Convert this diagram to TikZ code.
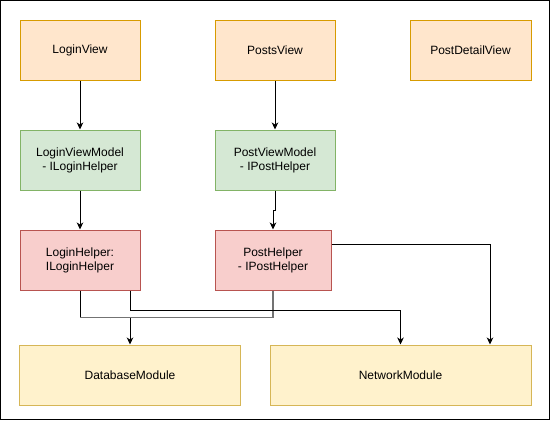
\documentclass[tikz,border=0pt]{standalone}
\usepackage{fontspec}
\setmainfont{Liberation Sans}
\usetikzlibrary{arrows.meta}

\definecolor{vistaF}{HTML}{FFE6CC}
\definecolor{vistaD}{HTML}{D79B00}
\definecolor{modeloF}{HTML}{D5E8D4}
\definecolor{modeloD}{HTML}{82B366}
\definecolor{ayudaF}{HTML}{F8CECC}
\definecolor{ayudaD}{HTML}{B85450}
\definecolor{moduloF}{HTML}{FFF2CC}
\definecolor{moduloD}{HTML}{D6B656}

\tikzset{
  caja/.style={rectangle,line width=1pt,minimum width=120pt,minimum height=60pt,
    align=center,inner sep=0pt,font=\fontsize{12}{14}\selectfont},
  vista/.style={caja,fill=vistaF,draw=vistaD},
  modelo/.style={caja,fill=modeloF,draw=modeloD},
  ayuda/.style={caja,fill=ayudaF,draw=ayudaD},
  modulo/.style={caja,fill=moduloF,draw=moduloD},
  flecha/.style={line width=1pt,-{Stealth[length=7pt,width=6.5pt,inset=2pt]}},
  linea/.style={line width=1pt},
  bus/.style={line width=1.6pt,draw=black!55}
}

\begin{document}
\begin{tikzpicture}[x=1pt,y=-1pt]
\useasboundingbox (0,0) rectangle (551,421);
%marco exterior
\draw [line width=1pt] (0.5,0.5) rectangle (549.5,419.5);

%Vistas
\node [vista] (loginView) at (80,50) {LoginView};
\node [vista] (postsView) at (275,50) {PostsView};
\node [vista,minimum width=121pt] (postDetailView) at (470.5,50) {PostDetailView};

%Modelos de vista
\node [modelo] (loginVM) at (80,160) {LoginViewModel\\- ILoginHelper};
\node [modelo] (postVM) at (275,160) {PostViewModel\\- IPostHelper};

%Helpers
\node [ayuda] (loginHelper) at (80,260) {LoginHelper:\\ILoginHelper};
\node [ayuda,minimum width=116pt] (postHelper) at (273,260) {PostHelper\\- IPostHelper};

%Modulos
\node [modulo,minimum width=221pt] (dbModule) at (130,375) {DatabaseModule};
\node [modulo,minimum width=261pt] (netModule) at (400.5,375) {NetworkModule};

%puntos de union
\coordinate (lhCodo) at (80,317.5);
\coordinate (phCodo) at (273,317.5);
\coordinate (dbUnion) at (130,317.5);

%Flechas entre capas
\draw [flecha] (loginView) -- (loginVM);
\draw [flecha] (postsView) -- (postVM);
\draw [flecha] (loginVM) -- (loginHelper);
\draw [flecha] (postVM.south) -- ++(0,20) -| (postHelper.north);

%Helpers hacia DatabaseModule
\draw [linea] (loginHelper.south) -- (lhCodo);
\draw [bus] (lhCodo) -- (dbUnion);
\draw [bus] (postHelper.south) -- (phCodo) -- (dbUnion);
\draw [flecha] (dbUnion) -- (dbModule.north);

%Helpers hacia NetworkModule
\draw [flecha] ([xshift=-10pt]loginHelper.south east) -- ++(0,20) -| (netModule.north);
\draw [flecha] ([yshift=-15pt]postHelper.north east) -| ([xshift=89.5pt]netModule.north);
\end{tikzpicture}
\end{document}
